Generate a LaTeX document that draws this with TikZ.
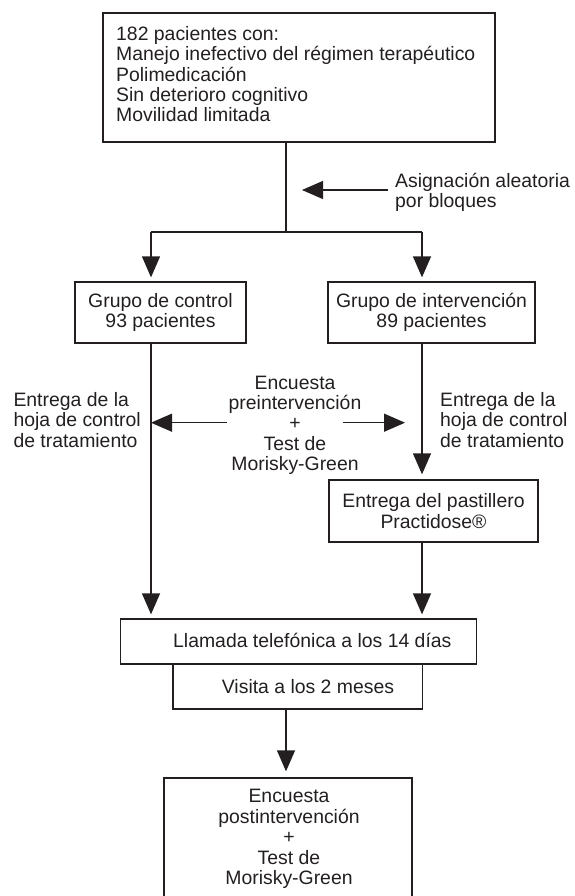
\documentclass[tikz,border=0pt]{standalone}
\usepackage{fontspec}
\setmainfont{Liberation Sans}
\usetikzlibrary{arrows.meta}
\definecolor{ink}{RGB}{35,31,32}
\begin{document}
\begin{tikzpicture}[x=1pt,y=-1pt,
  every node/.style={font=\fontsize{19.4}{20.4}\selectfont, text=ink, inner sep=0pt},
  box/.style={draw=ink, line width=1.3pt, rectangle},
  conn/.style={draw=ink, line width=1.3pt},
  arr/.style={conn, -{Triangle[length=21pt,width=18pt]}},
  txt/.style={align=left},
  ctxt/.style={align=center}]
\useasboundingbox (0,0) rectangle (574,896);

% boxes
\node[box, minimum width=392pt, minimum height=129pt] (top) at (299,77.5) {};
\node[txt, anchor=north west] (topT) at (116,26) {182 pacientes con:\\Manejo inefectivo del régimen terapéutico\\Polimedicación\\Sin deterioro cognitivo\\Movilidad limitada};

\node[box, ctxt, minimum width=171pt, minimum height=61pt] (ctrl) at (160.5,312.5) {Grupo de control\\93 pacientes};
\node[box, ctxt, minimum width=207pt, minimum height=61pt] (int) at (431.5,312.5) {Grupo de intervención\\89 pacientes};

\node[box, ctxt, minimum width=209pt, minimum height=62pt] (past) at (433.5,511) {Entrega del pastillero\\Practidose®};

\node[box, minimum width=356pt, minimum height=45pt] (llam) at (298.7,641.5) {};
\node[anchor=base west] (llamT) at (173,647.3) {Llamada telefónica a los 14 días};

\node[box, minimum width=249.7pt, minimum height=45pt] (vis) at (297.85,686.5) {};
\node[anchor=base west] (visT) at (221.7,693.3) {Visita a los 2 meses};

\node[box, minimum width=248pt, minimum height=140pt] (fin) at (288,848) {};
\node[ctxt, anchor=north] (finT) at (289,789.3) {Encuesta\\postintervención\\+\\Test de\\Morisky-Green};

% free texts
\node[txt, anchor=north west] (asig) at (395,172.7) {Asignación aleatoria\\por bloques};
\node[txt, anchor=north west] (hojaL) at (13.3,392) {Entrega de la\\hoja de control\\de tratamiento};
\node[txt, anchor=north west] (hojaR) at (440,392) {Entrega de la\\hoja de control\\de tratamiento};
\node[ctxt, anchor=north] (enc) at (295,375.5) {Encuesta\\preintervención\\+\\Test de\\Morisky-Green};

% coordinates
\coordinate (br) at (286,232);
\coordinate (brL) at (151,232);
\coordinate (brR) at (422,232);
\coordinate (asigA) at (388,190);
\coordinate (encL) at (226.7,422.7);
\coordinate (encR) at (343,422.7);

% connectors
\draw[conn] (top.south -| br) -- (br);
\draw[conn] (brL) -- (brR);
\draw[arr, shorten >=16pt] (asigA) -- (br |- asigA);
\draw[arr, shorten >=4pt] (brL) -- (brL |- ctrl.north);
\draw[arr, shorten >=4pt] (brR) -- (brR |- int.north);
\draw[arr, shorten >=4pt] (ctrl.south -| brL) -- (brL |- llam.north);
\draw[arr, shorten >=5pt] (int.south -| brR) -- (brR |- past.north);
\draw[arr, shorten >=4pt] (past.south -| brR) -- (brR |- llam.north);
\draw[arr] (encL) -- (brL |- encL);
\draw[arr, shorten >=17pt] (encR) -- (brR |- encR);
\draw[arr, shorten >=6pt] (vis.south -| br) -- (br |- fin.north);
\end{tikzpicture}
\end{document}
